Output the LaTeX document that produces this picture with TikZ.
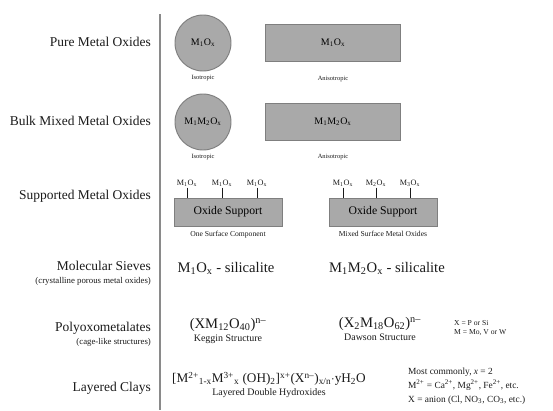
\documentclass[tikz,border=0pt]{standalone}
\usepackage{fontspec}
\setmainfont{Liberation Serif}
\usetikzlibrary{positioning, calc}
\definecolor{oxfill}{HTML}{A9A9A9}
\definecolor{oxline}{HTML}{7F7F7F}
\definecolor{rulegray}{HTML}{8A8A8A}
\definecolor{txt}{HTML}{1A1A1A}
\newcommand{\dn}[1]{\textsubscript{#1}}
\newcommand{\up}[1]{\textsuperscript{#1}}
\tikzset{
  rowlabel/.style={anchor=east, align=right, text=txt, font=\fontsize{11.5}{13}\selectfont},
  rowsub/.style={anchor=east, text=txt, font=\fontsize{7.5}{8}\selectfont},
  particle/.style={
    circle, minimum size=1.68cm, inner sep=0pt,
    draw=oxline, thick, fill=oxfill, font=\fontsize{8.5}{9}\selectfont,
  },
  slab/.style={
    rectangle, minimum width=4.05cm, minimum height=1.1cm,
    draw=oxline, thick, fill=oxfill, font=\fontsize{8.5}{9}\selectfont,
  },
  support/.style={
    rectangle, minimum width=3.24cm, minimum height=0.84cm,
    draw=oxline, thick, fill=oxfill, font=\fontsize{10}{11}\selectfont,
  },
  tinycap/.style={font=\fontsize{5.5}{6}\selectfont, text=txt, inner sep=1pt},
  caption/.style={font=\fontsize{6.5}{7}\selectfont, text=txt, inner sep=1pt},
  structcap/.style={font=\fontsize{8.5}{9}\selectfont, text=txt, inner sep=1pt},
  formula/.style={font=\fontsize{12.5}{14}\selectfont, text=txt, inner sep=1pt},
  note/.style={font=\fontsize{8}{12}\selectfont, text=txt, align=left, anchor=west},
  site/.style={font=\fontsize{7}{8}\selectfont, text=txt, inner sep=1pt},
  tickline/.style={draw=txt, semithick},
}

\begin{document}
\begin{tikzpicture}[x=0.03cm,y=-0.03cm]
  \useasboundingbox (0,0) rectangle (553,410);
  % divider
  \coordinate (top) at (160,14);
  \coordinate (bot) at (160,410);
  \draw[rulegray, line width=1.2pt] (top) -- (bot);

  % row labels
  \node[rowlabel] (pure) at (155,42) {Pure Metal Oxides};
  \node[rowlabel] (bulk) at (155,121) {Bulk Mixed Metal Oxides};
  \node[rowlabel] (supp) at (155,196) {Supported Metal Oxides};
  \node[rowlabel] (sieve) at (155,266) {Molecular Sieves};
  \node[rowsub] (sievesub) at (155,281) {(crystalline porous metal oxides)};
  \node[rowlabel] (poly) at (155,328) {Polyoxometalates};
  \node[rowsub] (polysub) at (155,342) {(cage-like structures)};
  \node[rowlabel] (clay) at (155,388) {Layered Clays};

  % pure and bulk mixed oxides
  \node[particle] (iso1) at (203,43) {M\dn{1}O\dn{x}};
  \node[tinycap,below=2pt of iso1] (iso1cap) {Isotropic};
  \node[slab] (aniso1) at (333,43) {M\dn{1}O\dn{x}};
  \node[tinycap] (aniso1cap) at (333,79) {Anisotropic};
  \node[particle] (iso2) at (203,122) {M\dn{1}M\dn{2}O\dn{x}};
  \node[tinycap,below=2pt of iso2] (iso2cap) {Isotropic};
  \node[slab] (aniso2) at (333,122) {M\dn{1}M\dn{2}O\dn{x}};
  \node[tinycap] (aniso2cap) at (333,157) {Anisotropic};

  % supported oxides
  \node[support] (sup1) at (228,212) {Oxide Support};
  \node[caption,below=3pt of sup1] (sup1cap) {One Surface Component};
  \node[site] (s11) at (187,183) {M\dn{1}O\dn{x}};
  \node[site] (s12) at (222,183) {M\dn{1}O\dn{x}};
  \node[site] (s13) at (257,183) {M\dn{1}O\dn{x}};
  \foreach \s in {s11,s12,s13}
    \draw[tickline] (\s.south) -- (\s.south |- sup1.north);

  \node[support] (sup2) at (383,212) {Oxide Support};
  \node[caption,below=3pt of sup2] (sup2cap) {Mixed Surface Metal Oxides};
  \node[site] (s21) at (343,183) {M\dn{1}O\dn{x}};
  \node[site] (s22) at (376,183) {M\dn{2}O\dn{x}};
  \node[site] (s23) at (410,183) {M\dn{3}O\dn{x}};
  \foreach \s in {s21,s22,s23}
    \draw[tickline] (\s.south) -- (\s.south |- sup2.north);

  % molecular sieves
  \node[formula] (sil1) at (226,268) {M\dn{1}O\dn{x} - silicalite};
  \node[formula] (sil2) at (387,268) {M\dn{1}M\dn{2}O\dn{x} - silicalite};

  % polyoxometalates
  \node[formula] (keggin) at (228,325) {(XM\dn{12}O\dn{40})\up{n--}};
  \node[structcap,below=0pt of keggin] (kegcap) {Keggin Structure};
  \node[formula] (dawson) at (380,324) {(X\dn{2}M\dn{18}O\dn{62})\up{n--}};
  \node[structcap,below=0pt of dawson] (dawcap) {Dawson Structure};
  \node[note,font=\fontsize{6.5}{8}\selectfont] (xm) at (450,328) {X = P or Si\\M = Mo, V or W};

  % layered clays
  \node[formula,font=\fontsize{11.3}{13}\selectfont] (ldh) at (269,379) {[M\up{2+}\dn{1-x}M\up{3+}\dn{x} (OH)\dn{2}]\up{x+}(X\up{n--})\dn{x/n}$\cdot$yH\dn{2}O};
  \node[structcap,below=0pt of ldh] (ldhcap) {Layered Double Hydroxides};
  \node[note] (common) at (404,386) {Most commonly, \textit{x} = 2\\M\up{2+} = Ca\up{2+}, Mg\up{2+}, Fe\up{2+}, etc.\\X = anion (Cl, NO\dn{3}, CO\dn{3}, etc.)};
\end{tikzpicture}
\end{document}
